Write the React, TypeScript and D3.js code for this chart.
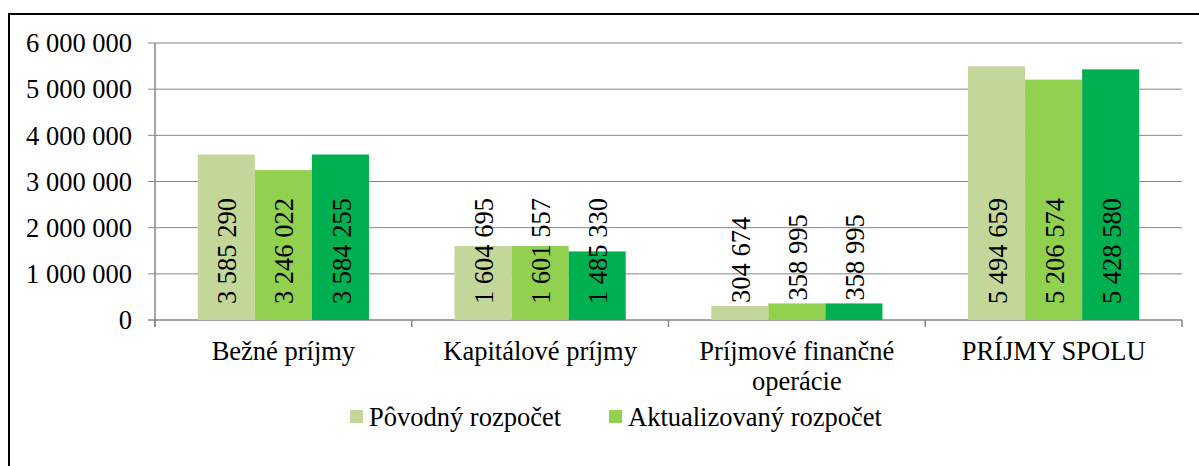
import * as d3 from "d3";

const categories = [
  ["Bežné príjmy"],
  ["Kapitálové príjmy"],
  ["Príjmové finančné", "operácie"],
  ["PRÍJMY SPOLU"],
];
const seriesNames = ["Pôvodný rozpočet", "Aktualizovaný rozpočet", "Skutočnosť"];
const povodny = [3585290, 1604695, 304674, 5494659];
const aktualizovany = [3246022, 1601557, 358995, 5206574];
const skutocnost = [3584255, 1485330, 358995, 5428580];
const colors = ["#c4d79b", "#92d050", "#00b050"];
const yTicks = [0, 1000000, 2000000, 3000000, 4000000, 5000000, 6000000];
const legendItems = [0, 1]; // only the first two series have a legend entry

const width = 1199;
const height = 466;
const plotLeft = 155;
const plotRight = 1182;
const plotTop = 43;
const plotBottom = 320;
const font = '"Liberation Serif", "Times New Roman", serif';

const fmt = (v: number) => d3.format(",")(v).replace(/,/g, " ");

const App = () => {
  const values = [povodny, aktualizovany, skutocnost];
  const catIdx = categories.map((_, i) => i);

  const x0 = d3
    .scaleBand<number>()
    .domain(catIdx)
    .range([plotLeft, plotRight])
    .padding(0);

  const x1 = d3
    .scaleBand<number>()
    .domain(seriesNames.map((_, i) => i))
    .range([0, x0.bandwidth()])
    .paddingInner(0)
    .paddingOuter(0.75);

  const y = d3.scaleLinear().domain([0, 6000000]).range([plotBottom, plotTop]);

  const catEdges = [...catIdx.map((i) => x0(i) as number), plotRight];
  const txt = { fontFamily: font, fontSize: 26.5, fill: "#000" };

  return (
    <svg
      width={width}
      height={height}
      viewBox={`0 0 ${width} ${height}`}
      style={{ position: "absolute", left: 0, top: 0, background: "#fff" }}
    >
      <rect x={9} y={14} width={1250} height={500} fill="none" stroke="#000" strokeWidth={2} />

      {yTicks.map((t) => (
        <g key={t}>
          <line
            x1={plotLeft - 7}
            x2={plotRight}
            y1={y(t)}
            y2={y(t)}
            stroke="#868686"
            strokeWidth={t === 0 ? 1.5 : 1}
          />
          <text x={132} y={y(t)} dy="0.35em" textAnchor="end" style={txt}>
            {fmt(t)}
          </text>
        </g>
      ))}

      <line x1={plotLeft} x2={plotLeft} y1={plotTop} y2={plotBottom + 7} stroke="#868686" strokeWidth={1.5} />
      {catEdges.map((e, i) => (
        <line key={i} x1={e} x2={e} y1={plotBottom} y2={plotBottom + 7} stroke="#868686" strokeWidth={1.5} />
      ))}

      {values.map((vals, s) =>
        vals.map((v, c) => {
          const bx = (x0(c) as number) + (x1(s) as number);
          const bw = x1.bandwidth();
          return (
            <rect key={`${s}-${c}`} x={bx} y={y(v)} width={bw} height={plotBottom - y(v)} fill={colors[s]} />
          );
        })
      )}

      {values.map((vals, s) =>
        vals.map((v, c) => {
          const cx = (x0(c) as number) + (x1(s) as number) + x1.bandwidth() / 2;
          const ly = y(v) > plotBottom - 20 ? y(v) - 3 : plotBottom - 16;
          return (
            <text
              key={`l-${s}-${c}`}
              transform={`translate(${cx},${ly}) rotate(-90)`}
              dy="0.38em"
              textAnchor="start"
              style={txt}
            >
              {fmt(v)}
            </text>
          );
        })
      )}

      {categories.map((lines, c) => (
        <text
          key={`c-${c}`}
          x={(x0(c) as number) + x0.bandwidth() / 2}
          y={360}
          textAnchor="middle"
          style={txt}
        >
          {lines.map((ln, k) => (
            <tspan key={k} x={(x0(c) as number) + x0.bandwidth() / 2} dy={k === 0 ? 0 : 30}>
              {ln}
            </tspan>
          ))}
        </text>
      ))}

      {legendItems.map((s, k) => {
        const lx = k === 0 ? 350 : 609;
        return (
          <g key={`lg-${s}`}>
            <rect x={lx} y={410} width={13} height={13} fill={colors[s]} />
            <text x={lx + 19} y={426} style={txt}>
              {seriesNames[s]}
            </text>
          </g>
        );
      })}
    </svg>
  );
};

export default App;
